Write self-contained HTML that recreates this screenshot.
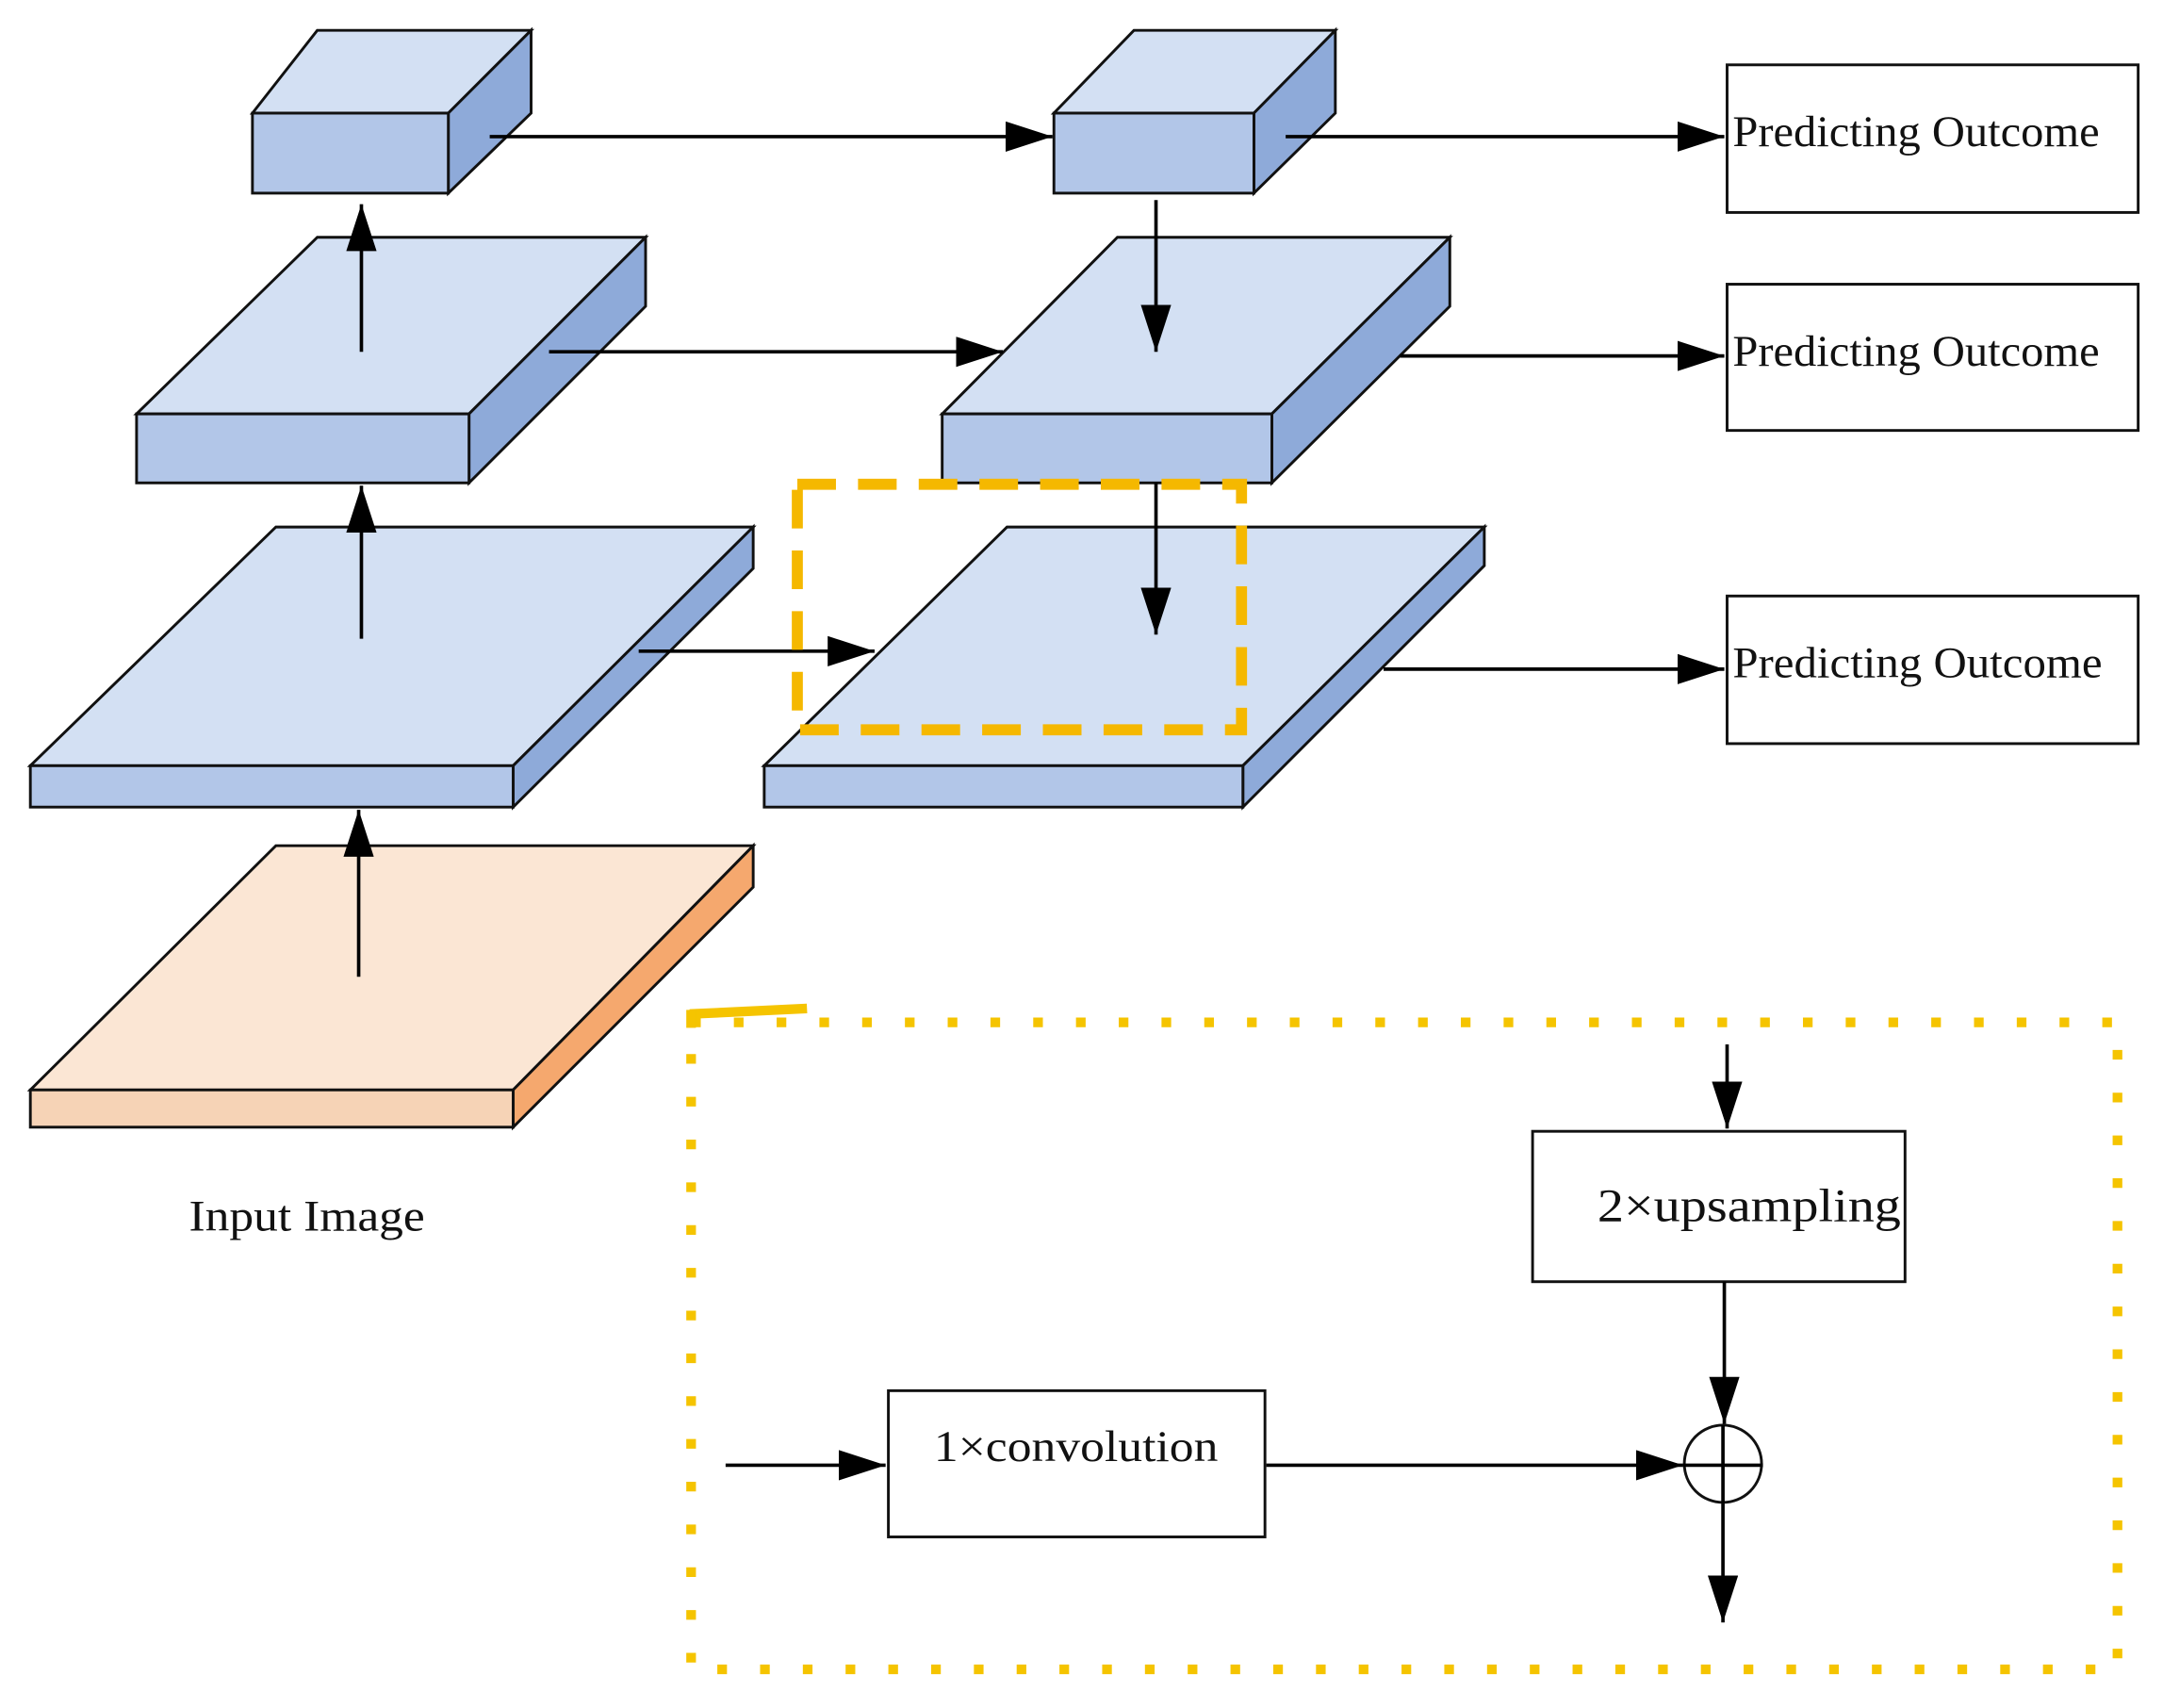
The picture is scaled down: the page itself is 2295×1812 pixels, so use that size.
<!DOCTYPE html>
<html><head><meta charset="utf-8"><style>
html,body{margin:0;padding:0;background:#fff}
svg{display:block}
text{font-family:"Liberation Serif",serif;fill:#111}
</style></head><body>
<svg width="2295" height="1812" viewBox="0 0 1568 1238" preserveAspectRatio="none" xmlns="http://www.w3.org/2000/svg">
<defs>
<marker id="b" viewBox="0 0 10 10" refX="10" refY="5" markerWidth="34" markerHeight="22" markerUnits="userSpaceOnUse" orient="auto" preserveAspectRatio="none"><path d="M0,0L10,5L0,10z" fill="#000"/></marker>
</defs>
<g stroke="#111" stroke-width="2">
<polygon points="183,82 230,22 385,22 325,82" fill="#d3e0f3"/>
<polygon points="325,82 385,22 385,82 325,140" fill="#8eaad9"/>
<rect x="183" y="82" width="142" height="58" fill="#b2c6e8"/>
<polygon points="99,300 230,172 468,172 340,300" fill="#d3e0f3"/>
<polygon points="340,300 468,172 468,222 340,350" fill="#8eaad9"/>
<rect x="99" y="300" width="241" height="50" fill="#b2c6e8"/>
<polygon points="22,555 200,382 546,382 372,555" fill="#d3e0f3"/>
<polygon points="372,555 546,382 546,412 372,585" fill="#8eaad9"/>
<rect x="22" y="555" width="350" height="30" fill="#b2c6e8"/>
<polygon points="22,790 200,613 546,613 372,790" fill="#fbe6d4"/>
<polygon points="372,790 546,613 546,643 372,817" fill="#f5a86e"/>
<rect x="22" y="790" width="350" height="27" fill="#f6d3b6"/>
<polygon points="764,82 822,22 968,22 909,82" fill="#d3e0f3"/>
<polygon points="909,82 968,22 968,82 909,140" fill="#8eaad9"/>
<rect x="764" y="82" width="145" height="58" fill="#b2c6e8"/>
<polygon points="683,300 810,172 1051,172 922,300" fill="#d3e0f3"/>
<polygon points="922,300 1051,172 1051,222 922,350" fill="#8eaad9"/>
<rect x="683" y="300" width="239" height="50" fill="#b2c6e8"/>
<polygon points="554,555 730,382 1076,382 901,555" fill="#d3e0f3"/>
<polygon points="901,555 1076,382 1076,410 901,585" fill="#8eaad9"/>
<rect x="554" y="555" width="347" height="30" fill="#b2c6e8"/>
<rect x="1252" y="47" width="298" height="107" fill="#fff"/>
<rect x="1252" y="206" width="298" height="106" fill="#fff"/>
<rect x="1252" y="432" width="298" height="107" fill="#fff"/>
<rect x="1111" y="820" width="270" height="109" fill="#fff"/>
<rect x="644" y="1008" width="273" height="106" fill="#fff"/>
<circle cx="1249" cy="1061" r="28" fill="none"/>
</g>
<g stroke="#000" stroke-width="2.5" fill="none" marker-end="url(#b)">
<line x1="262" y1="255" x2="262" y2="148"/>
<line x1="262" y1="463" x2="262" y2="352"/>
<line x1="260" y1="708" x2="260" y2="587"/>
<line x1="355" y1="99" x2="763" y2="99"/>
<line x1="398" y1="255" x2="727" y2="255"/>
<line x1="463" y1="472" x2="634" y2="472"/>
<line x1="932" y1="99" x2="1250" y2="99"/>
<line x1="1015" y1="258" x2="1250" y2="258"/>
<line x1="1003" y1="485" x2="1250" y2="485"/>
<line x1="838" y1="145" x2="838" y2="255"/>
<line x1="838" y1="350" x2="838" y2="460"/>
<line x1="1252" y1="757" x2="1252" y2="818"/>
<line x1="1250" y1="929" x2="1250" y2="1032"/>
<line x1="918" y1="1062" x2="1220" y2="1062"/>
<line x1="526" y1="1062" x2="642" y2="1062"/>
<line x1="1249" y1="1090" x2="1249" y2="1176"/>
</g>
<line x1="1220" y1="1062" x2="1278" y2="1062" stroke="#000" stroke-width="2.5"/>
<line x1="1249" y1="1033" x2="1249" y2="1090" stroke="#000" stroke-width="2.5"/>
<rect x="578" y="351" width="322" height="178" fill="none" stroke="#f5b800" stroke-width="8" stroke-dasharray="28,16"/>
<rect x="501" y="741" width="1034" height="469" fill="none" stroke="#f5c400" stroke-width="7" stroke-dasharray="7,24"/>
<line x1="500" y1="735" x2="585" y2="731" stroke="#f5c400" stroke-width="7"/>
<line x1="501" y1="732" x2="501" y2="745" stroke="#f5c400" stroke-width="7"/>
<g font-size="32">
<text x="1256" y="106" textLength="266" lengthAdjust="spacingAndGlyphs">Predicting Outcome</text>
<text x="1256" y="265" textLength="266" lengthAdjust="spacingAndGlyphs">Predicting Outcome</text>
<text x="1256" y="491" textLength="268" lengthAdjust="spacingAndGlyphs">Predicting Outcome</text>
<text x="1158" y="885" font-size="34" textLength="220" lengthAdjust="spacingAndGlyphs">2×upsampling</text>
<text x="677" y="1059" textLength="206" lengthAdjust="spacingAndGlyphs">1×convolution</text>
<text x="137" y="892" textLength="171" lengthAdjust="spacingAndGlyphs">Input Image</text>
</g>
</svg>
</body></html>
